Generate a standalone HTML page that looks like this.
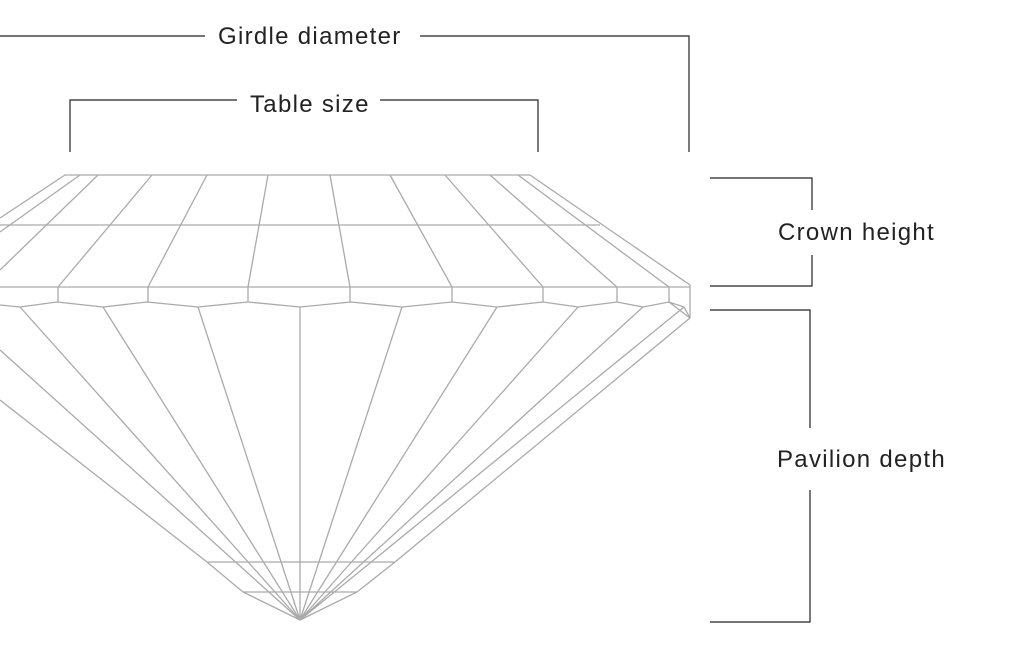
<!DOCTYPE html>
<html><head><meta charset="utf-8"><style>
html,body{margin:0;padding:0;background:#fff;}
svg{display:block}
text{font-family:"Liberation Sans",sans-serif;font-size:24px;fill:#222;letter-spacing:1.3px}
</style></head><body>
<svg width="1028" height="652" viewBox="0 0 1028 652" xmlns="http://www.w3.org/2000/svg">
<g stroke="#222" stroke-width="1.2" fill="none">
<path d="M0 36 H205 M420 36 H689 V152"/>
<path d="M70 152 V100 H237 M380 100 H538 V152"/>
<path d="M710 178 H812 V210 M812 255 V286 H710"/>
<path d="M710 310 H810 V428 M810 490 V622 H710"/>
</g>
<text x="218" y="44">Girdle diameter</text>
<text x="250" y="112">Table size</text>
<text x="778" y="240">Crown height</text>
<text x="777" y="467">Pavilion depth</text>
<g stroke="#aaa" stroke-width="1.3" fill="none">
<path d="M0 218 L65 175 H530 L690 285 V318"/>
<path d="M0 232 L80 175 M0 270 L98 175 M58 287 L152 175 M148 287 L207 175 M248 287 L268 175 M350 287 L330 175 M452 287 L390 175 M543 287 L445 175 M617 287 L490 175 M669 287 L518 175"/>
<path d="M0 225 H600"/>
<path d="M0 287 H690"/>
<path d="M58 287 V302 M148 287 V302 M248 287 V302 M350 287 V302 M452 287 V302 M543 287 V302 M617 287 V302 M669 287 V302"/>
<path d="M0 305 L20 307 L57 302 L103 307 L147 302 L198 307 L248 302 L300 307 L351 302 L402 307 L452 302 L497 307 L543 302 L578 307 L617 302 L643 307 L669 302 L684 307 L690 318 L669 302"/>
<path d="M20 307 L300 620 M103 307 L300 620 M198 307 L300 620 M300 307 V620 M402 307 L300 620 M497 307 L300 620 M578 307 L300 620 M643 307 L300 620 M684 307 L300 620"/>
<path d="M690 318 L395 562 L357 592 L300 620"/>
<path d="M0 400 L207 562 L243 592 L300 620"/>
<path d="M0 350 L300 620"/>
<path d="M207 562 H394 M243 592 H357"/>
</g>
</svg>
</body></html>
